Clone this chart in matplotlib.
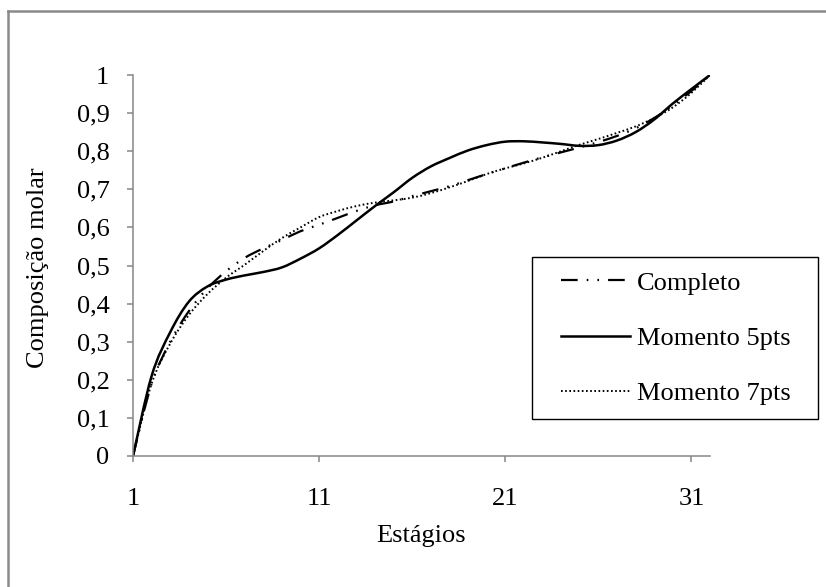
import numpy as np
import matplotlib
matplotlib.use("Agg")
import matplotlib.pyplot as plt
from matplotlib.lines import Line2D
from matplotlib.patches import Rectangle, PathPatch
from matplotlib.path import Path

plt.rcParams['font.family'] = ['Liberation Serif', 'DejaVu Serif']
plt.rcParams['lines.scale_dashes'] = False

# stage number along the column
estagios = np.arange(1, 33)

completo = [0.0, 0.19, 0.30, 0.38, 0.44, 0.485, 0.52, 0.545, 0.567, 0.59,
            0.607, 0.625, 0.643, 0.658, 0.668, 0.682, 0.695, 0.708, 0.724, 0.74,
            0.755, 0.77, 0.784, 0.797, 0.81, 0.824, 0.84, 0.86, 0.887, 0.92,
            0.958, 1.0]

momento_5pts = [0.0, 0.21, 0.325, 0.405, 0.445, 0.463, 0.474, 0.483, 0.495, 0.518,
                0.545, 0.58, 0.618, 0.656, 0.692, 0.73, 0.76, 0.782, 0.802, 0.816,
                0.825, 0.826, 0.823, 0.819, 0.814, 0.816, 0.828, 0.85, 0.883, 0.925,
                0.963, 1.0]

momento_7pts = [0.0, 0.19, 0.295, 0.37, 0.425, 0.468, 0.502, 0.538, 0.572, 0.60,
                0.627, 0.643, 0.656, 0.665, 0.671, 0.678, 0.69, 0.705, 0.722, 0.74,
                0.755, 0.768, 0.783, 0.80, 0.817, 0.832, 0.848, 0.865, 0.887, 0.915,
                0.953, 1.0]

xticks = [1, 11, 21, 31]
yticks = np.round(np.arange(0, 1.01, 0.1), 1)
ytick_labels = ['0' if v == 0 else ('1' if v == 1 else f'{v:.1f}'.replace('.', ','))
                for v in yticks]


def smooth_path(x, y):
    # smoothed line through the points (cubic Bezier, Catmull-Rom tangents)
    p = np.column_stack([x, y]).astype(float)
    ext = np.vstack([p[0], p, p[-1]])
    verts = [p[0]]
    codes = [Path.MOVETO]
    for i in range(len(p) - 1):
        p0, p1, p2, p3 = ext[i], ext[i + 1], ext[i + 2], ext[i + 3]
        verts += [p1 + (p2 - p0) / 6, p2 - (p3 - p1) / 6, p2]
        codes += [Path.CURVE4] * 3
    return Path(verts, codes)


series = [
    ('Completo', completo, dict(lw=1.6, dashes=(12, 6.5, 1.2, 6.5, 1.2, 6.5))),
    ('Momento 5pts', momento_5pts, dict(lw=1.8)),
    ('Momento 7pts', momento_7pts, dict(lw=1.4, dashes=(1.2, 1.8))),
]

W, H = 826, 587
fig = plt.figure(figsize=(W / 100, H / 100), dpi=100)
ax = fig.add_axes([133 / W, 1 - 456 / H, (710 - 133) / W, (456 - 75) / H])

handles = []
for name, values, st in series:
    ls = (0, st['dashes']) if 'dashes' in st else '-'
    ax.add_patch(PathPatch(smooth_path(estagios, values), fill=False,
                           edgecolor='black', lw=st['lw'], linestyle=ls,
                           capstyle='butt', joinstyle='round'))
    handles.append(Line2D([], [], color='black', lw=st['lw'], linestyle=ls,
                          label=name))

ax.set_xlim(1, 32)
ax.set_ylim(0, 1)
ax.set_xticks(xticks)
ax.set_yticks(yticks)
ax.set_yticklabels(ytick_labels)

for side in ['top', 'right']:
    ax.spines[side].set_visible(False)
for side in ['left', 'bottom']:
    ax.spines[side].set_color('#868686')
    ax.spines[side].set_linewidth(1.1)
ax.tick_params(axis='both', colors='#868686', labelcolor='black',
               length=4, width=1.1, labelsize=19)
ax.tick_params(axis='y', pad=13)
ax.tick_params(axis='x', pad=19)

fig.text(38 / W, 1 - 268 / H, 'Composição molar', rotation=90,
         ha='center', va='center', fontsize=19)
fig.text(421 / W, 1 - 536 / H, 'Estágios', ha='center', va='center', fontsize=19)

leg = ax.legend(handles=handles, loc='center left',
                bbox_to_anchor=(561 / W, 1 - 338 / H),
                bbox_transform=fig.transFigure, frameon=False, fontsize=19,
                borderpad=0, borderaxespad=0, handlelength=2.6,
                handletextpad=0.27, labelspacing=1.2)
fig.add_artist(Rectangle((532 / W, 1 - 419 / H), (818 - 532) / W, (419 - 257) / H,
                         transform=fig.transFigure, fill=False,
                         edgecolor='black', lw=1.0))

# grey frame around the chart area
fig.add_artist(Line2D([8 / W, 8 / W], [0, 1 - 10.5 / H], transform=fig.transFigure,
                      color='#8a8a8a', lw=1.8))
fig.add_artist(Line2D([8 / W, 1], [1 - 10.5 / H, 1 - 10.5 / H],
                      transform=fig.transFigure, color='#8a8a8a', lw=1.8))

fig.savefig('out.png', dpi=100)
